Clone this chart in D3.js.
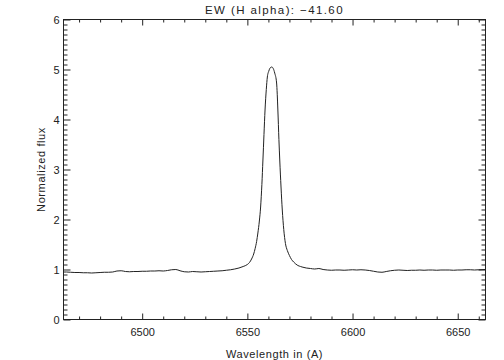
<!DOCTYPE html>
<html>
<head>
<meta charset="utf-8">
<script src="https://cdn.jsdelivr.net/npm/d3@7"></script>
<style>
  body { margin: 0; background: #fff; }
  svg { display: block; }
  text { font-family: "Liberation Sans", Arial, sans-serif; fill: #222; }
</style>
</head>
<body>
<svg id="chart" width="504" height="360"></svg>
<script>
// ---- data ----
const wavelength = [
  6462.6, 6464, 6466, 6468, 6470, 6472, 6474, 6476, 6478, 6480,
  6482, 6484, 6486, 6488, 6490, 6492, 6494, 6496, 6498, 6500,
  6502, 6504, 6506, 6508, 6510, 6512, 6514, 6516, 6518, 6520,
  6522, 6524, 6526, 6528, 6530, 6532, 6534, 6536, 6538, 6540,
  6542, 6544, 6546, 6548, 6550, 6551, 6552, 6553, 6553.7, 6554.4,
  6555, 6555.7, 6556.3, 6556.9, 6557.4, 6557.9, 6558.4, 6559, 6559.5, 6560.2,
  6561, 6561.6, 6562.3, 6563, 6563.9, 6564.5, 6565, 6565.4, 6566, 6566.6,
  6567.3, 6568.1, 6569, 6570, 6571, 6572, 6573, 6574, 6575.3, 6576,
  6578, 6580, 6582, 6584, 6586, 6588, 6590, 6592, 6594, 6596,
  6598, 6600, 6602, 6604, 6606, 6608, 6610, 6612, 6614, 6616,
  6618, 6620, 6622, 6624, 6626, 6628, 6630, 6632, 6634, 6636,
  6638, 6640, 6642, 6644, 6646, 6648, 6650, 6652, 6654, 6656,
  6658, 6660, 6663.2
];
const flux = [
  0.95, 0.95, 0.945, 0.94, 0.94, 0.935, 0.935, 0.93, 0.935, 0.94,
  0.945, 0.945, 0.95, 0.97, 0.975, 0.96, 0.955, 0.96, 0.96, 0.965,
  0.965, 0.97, 0.97, 0.975, 0.97, 0.98, 0.995, 1.0, 0.975, 0.955,
  0.95, 0.96, 0.955, 0.95, 0.955, 0.96, 0.965, 0.97, 0.975, 0.985,
  0.995, 1.01, 1.03, 1.06, 1.10, 1.14, 1.21, 1.31, 1.42, 1.56,
  1.73, 1.97, 2.25, 2.70, 3.19, 3.70, 4.19, 4.60, 4.85, 4.97,
  5.04, 5.05, 5.02, 4.93, 4.73, 4.19, 3.60, 3.19, 2.65, 2.19,
  1.80, 1.52, 1.38, 1.28, 1.20, 1.15, 1.11, 1.08, 1.06, 1.05,
  1.03, 1.02, 1.01, 1.02, 1.00, 0.99, 0.985, 0.99, 0.99, 0.985,
  0.99, 0.995, 0.99, 0.995, 0.99, 0.98, 0.965, 0.95, 0.945, 0.96,
  0.975, 0.985, 0.99, 0.985, 0.98, 0.985, 0.985, 0.99, 0.985, 0.99,
  0.99, 0.985, 0.99, 0.99, 0.99, 0.985, 0.99, 0.99, 0.995, 0.995,
  0.99, 0.995, 1.0
];
const xMajorTicks = [6500, 6550, 6600, 6650];
const yMajorTicks = [0, 1, 2, 3, 4, 5, 6];
const xDomain = [6462.6, 6663.2];
const yDomain = [0, 6];
const titleText = "EW (H alpha): \u221241.60";
const xLabel = "Wavelength in (A)";
const yLabel = "Normalized flux";

// ---- drawing ----
const svg = d3.select("#chart");
const L = 63.5, R = 485.5, T = 19.5, B = 319.5;
const x = d3.scaleLinear().domain(xDomain).range([L, R]);
const y = d3.scaleLinear().domain(yDomain).range([B, T]);

const xMinor = d3.range(6470, 6661, 10).filter(v => !xMajorTicks.includes(v));
const yMinor = d3.range(1, 60).map(v => v / 10).filter(v => Math.abs(v - Math.round(v)) > 1e-9);

function styleAxis(g) {
  g.select(".domain").remove();
  g.selectAll("line").attr("stroke", "#222").attr("stroke-width", 1);
  g.selectAll("text").attr("font-size", 11).attr("fill", "#222")
    .attr("font-family", "'Liberation Sans', Arial, sans-serif");
}

// bottom
svg.append("g").attr("transform", `translate(0,${B})`)
  .call(d3.axisBottom(x).tickValues(xMajorTicks).tickFormat(d3.format("d")).tickSizeInner(-6).tickSizeOuter(0).tickPadding(8.5))
  .call(styleAxis);
svg.append("g").attr("transform", `translate(0,${B})`)
  .call(d3.axisBottom(x).tickValues(xMinor).tickFormat("").tickSizeInner(-3).tickSizeOuter(0))
  .call(styleAxis);
// top
svg.append("g").attr("transform", `translate(0,${T})`)
  .call(d3.axisTop(x).tickValues(xMajorTicks).tickFormat("").tickSizeInner(-6).tickSizeOuter(0))
  .call(styleAxis);
svg.append("g").attr("transform", `translate(0,${T})`)
  .call(d3.axisTop(x).tickValues(xMinor).tickFormat("").tickSizeInner(-3).tickSizeOuter(0))
  .call(styleAxis);
// left
svg.append("g").attr("transform", `translate(${L},0)`)
  .call(d3.axisLeft(y).tickValues(yMajorTicks).tickFormat(d3.format("d")).tickSizeInner(-7).tickSizeOuter(0).tickPadding(4))
  .call(styleAxis);
svg.append("g").attr("transform", `translate(${L},0)`)
  .call(d3.axisLeft(y).tickValues(yMinor).tickFormat("").tickSizeInner(-4).tickSizeOuter(0))
  .call(styleAxis);
// right
svg.append("g").attr("transform", `translate(${R},0)`)
  .call(d3.axisRight(y).tickValues(yMajorTicks).tickFormat("").tickSizeInner(-7).tickSizeOuter(0))
  .call(styleAxis);
svg.append("g").attr("transform", `translate(${R},0)`)
  .call(d3.axisRight(y).tickValues(yMinor).tickFormat("").tickSizeInner(-4).tickSizeOuter(0))
  .call(styleAxis);

// frame
svg.append("rect").attr("x", L).attr("y", T).attr("width", R - L).attr("height", B - T)
  .attr("fill", "none").attr("stroke", "#222").attr("stroke-width", 1);

// spectrum line
const pts = wavelength.map((w, i) => [w, flux[i]]);
svg.append("path").datum(pts)
  .attr("fill", "none").attr("stroke", "#222").attr("stroke-width", 1)
  .attr("d", d3.line().x(d => x(d[0])).y(d => y(d[1])).curve(d3.curveMonotoneX));

// title and labels
svg.append("text").attr("x", (L + R) / 2).attr("y", 14).attr("text-anchor", "middle")
  .attr("font-size", 11.5).attr("letter-spacing", 1.4).text(titleText);
svg.append("text").attr("x", (L + R) / 2).attr("y", 358).attr("text-anchor", "middle")
  .attr("font-size", 11).attr("letter-spacing", 0.6).text(xLabel);
svg.append("text").attr("transform", `translate(45,${(T + B) / 2}) rotate(-90)`)
  .attr("text-anchor", "middle").attr("font-size", 11).attr("letter-spacing", 0.6).text(yLabel);
</script>
</body>
</html>
